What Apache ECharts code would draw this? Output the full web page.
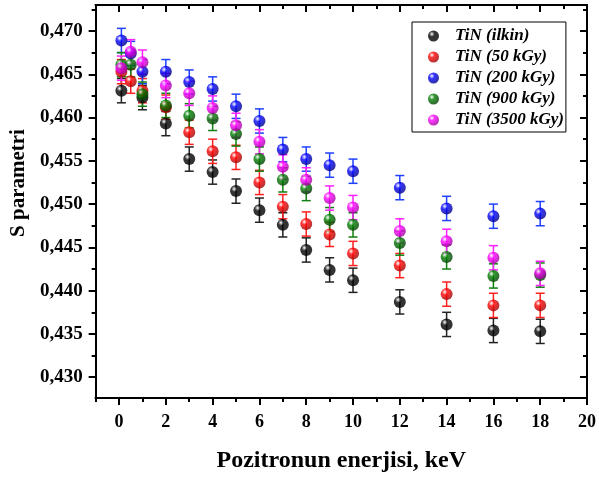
<!DOCTYPE html>
<html>
<head>
<meta charset="utf-8">
<script src="https://cdn.jsdelivr.net/npm/echarts@6/dist/echarts.min.js"></script>
<style>
  html, body { margin: 0; padding: 0; background: #fff; }
  #chart { width: 599px; height: 478px; }
</style>
</head>
<body>
<div id="chart"></div>
<script>
// Pozitron enerjisi (keV)
var energy = [0.1, 0.5, 1, 2, 3, 4, 5, 6, 7, 8, 9, 10, 12, 14, 16, 18];
// S parametresi ('-' = nokta görünmüyor)
var sIlkin = [0.4631, '-', 0.4623, 0.4593, 0.4552, 0.4537, 0.4515, 0.4493, 0.4476, 0.4447, 0.4424, 0.4412, 0.4387, 0.4361, 0.4354, 0.4353];
var s50    = [0.4653, 0.4642, 0.4631, 0.4612, 0.4583, 0.4561, 0.4554, 0.4525, 0.4497, 0.4477, 0.4465, 0.4443, 0.4429, 0.4396, 0.4383, 0.4383];
var s200   = [0.4689, 0.4674, 0.4653, 0.4653, 0.4641, 0.4633, 0.4613, 0.4596, 0.4563, 0.4552, 0.4545, 0.4538, 0.4519, 0.4495, 0.4486, 0.4489];
var s900   = [0.4661, 0.4661, 0.4627, 0.4614, 0.4602, 0.4599, 0.4581, 0.4552, 0.4528, 0.4518, 0.4482, 0.4476, 0.4455, 0.4439, 0.4417, 0.4418];
var s3500  = [0.4657, 0.4676, 0.4664, 0.4637, 0.4628, 0.4611, 0.4591, 0.4572, 0.4543, 0.4528, 0.4507, 0.4496, 0.4469, 0.4457, 0.4438, 0.4420];
var sErr = 0.0014;

var seriesNames = ['TiN (ilkin)', 'TiN (50 kGy)', 'TiN (200 kGy)', 'TiN (900 kGy)', 'TiN (3500 kGy)'];
var seriesData = [sIlkin, s50, s200, s900, s3500];
var colors = ['#000000', '#ff0000', '#0000ff', '#008000', '#ff00ff'];
var darkColors = ['#000000', '#a00000', '#00008c', '#004000', '#a000a0'];
var barColors = ['#222222', '#ff2020', '#2040ff', '#108010', '#ff20ff'];

var xMajor = [0, 2, 4, 6, 8, 10, 12, 14, 16, 18, 20];
var xMinor = [-1, 1, 3, 5, 7, 9, 11, 13, 15, 17, 19];
var yMajor = [0.430, 0.435, 0.440, 0.445, 0.450, 0.455, 0.460, 0.465, 0.470];
var yMinor = [0.4325, 0.4375, 0.4425, 0.4475, 0.4525, 0.4575, 0.4625, 0.4675, 0.4725];

var chart = echarts.init(document.getElementById('chart'));
var font = 'Liberation Serif';
var xMin = -1, xMax = 20, yMin = 0.4276, yMax = 0.473;

function ball(i) {
  return {
    type: 'radial', x: 0.35, y: 0.32, r: 0.7,
    colorStops: [
      { offset: 0, color: '#ffffff' },
      { offset: 0.35, color: colors[i] },
      { offset: 1, color: darkColors[i] }
    ]
  };
}

function errorRender(color) {
  return function (params, api) {
    var x = api.value(0);
    var top = api.coord([x, api.value(2)]);
    var bot = api.coord([x, api.value(1)]);
    var w = 4.5;
    var st = { stroke: color, lineWidth: 1.5 };
    return {
      type: 'group',
      children: [
        { type: 'line', shape: { x1: top[0], y1: top[1], x2: bot[0], y2: bot[1] }, style: st },
        { type: 'line', shape: { x1: top[0] - w, y1: top[1], x2: top[0] + w, y2: top[1] }, style: st },
        { type: 'line', shape: { x1: bot[0] - w, y1: bot[1], x2: bot[0] + w, y2: bot[1] }, style: st }
      ]
    };
  };
}

function axisX(pos, inside, major, len, showLabel, name) {
  return {
    type: 'value', position: pos, min: xMin, max: xMax,
    name: name || '', nameLocation: 'middle', nameGap: 51,
    nameTextStyle: { fontFamily: font, fontWeight: 'bold', fontSize: 24, color: '#000' },
    axisLine: { show: true, onZero: false, lineStyle: { color: '#000', width: 2 } },
    axisTick: { show: true, inside: inside, length: len, customValues: major, lineStyle: { color: '#000', width: 2 } },
    axisLabel: { show: showLabel, customValues: major, margin: 15, fontFamily: font, fontWeight: 'bold', fontSize: 18, color: '#000' },
    splitLine: { show: false }
  };
}

function axisY(pos, inside, major, len, showLabel, name) {
  return {
    type: 'value', position: pos, min: yMin, max: yMax,
    name: name || '', nameLocation: 'middle', nameGap: 66,
    nameTextStyle: { fontFamily: font, fontWeight: 'bold', fontSize: 21, color: '#000', padding: [0, 0, 0, 37] },
    axisLine: { show: true, onZero: false, lineStyle: { color: '#000', width: 2 } },
    axisTick: { show: true, inside: inside, length: len, customValues: major, lineStyle: { color: '#000', width: 2 } },
    axisLabel: {
      show: showLabel, customValues: major, margin: 13, fontFamily: font, fontWeight: 'bold', fontSize: 19, color: '#000',
      formatter: function (v) { return v.toFixed(3).replace('.', ','); }
    },
    splitLine: { show: false }
  };
}

var series = [];
seriesData.forEach(function (vals, i) {
  var pts = [], bars = [];
  energy.forEach(function (e, k) {
    if (vals[k] === '-') return;
    pts.push([e, vals[k]]);
    bars.push([e, vals[k] - sErr, vals[k] + sErr]);
  });
  series.push({
    name: seriesNames[i] + ' err',
    type: 'custom',
    xAxisIndex: 0, yAxisIndex: 0,
    renderItem: errorRender(barColors[i]),
    data: bars,
    encode: { x: 0, y: [1, 2] },
    silent: true,
    z: 2
  });
  series.push({
    name: seriesNames[i],
    type: 'scatter',
    xAxisIndex: 0, yAxisIndex: 0,
    symbol: 'circle',
    symbolSize: 12,
    itemStyle: { color: ball(i) },
    data: pts,
    z: 3 + i
  });
});

var option = {
  animation: false,
  textStyle: { fontFamily: font },
  grid: { left: 95, right: 12, top: 5, bottom: 76, containLabel: false },
  legend: {
    data: seriesNames.map(function (n, i) { return { name: n, icon: 'circle', itemStyle: { color: ball(i) } }; }),
    orient: 'vertical',
    left: 412, top: 22,
    padding: [5, 2, 3, 16],
    itemWidth: 11, itemHeight: 11, itemGap: 3,
    borderColor: '#000', borderWidth: 1,
    textStyle: {
      fontFamily: font, fontWeight: 'bold', fontStyle: 'italic', fontSize: 17, color: '#000',
      lineHeight: 18, padding: [0, 0, 0, 11]
    }
  },
  xAxis: [
    axisX('bottom', false, xMajor, 7, true, 'Pozitronun enerjisi, keV'),
    axisX('bottom', false, xMinor, 4, false),
    axisX('top', true, xMajor, 7, false),
    axisX('top', true, xMinor, 4, false)
  ],
  yAxis: [
    axisY('left', false, yMajor, 7, true, 'S parametri'),
    axisY('left', false, yMinor, 4, false),
    axisY('right', true, yMajor, 7, false),
    axisY('right', true, yMinor, 4, false)
  ],
  series: series
};

chart.setOption(option);
</script>
</body>
</html>
